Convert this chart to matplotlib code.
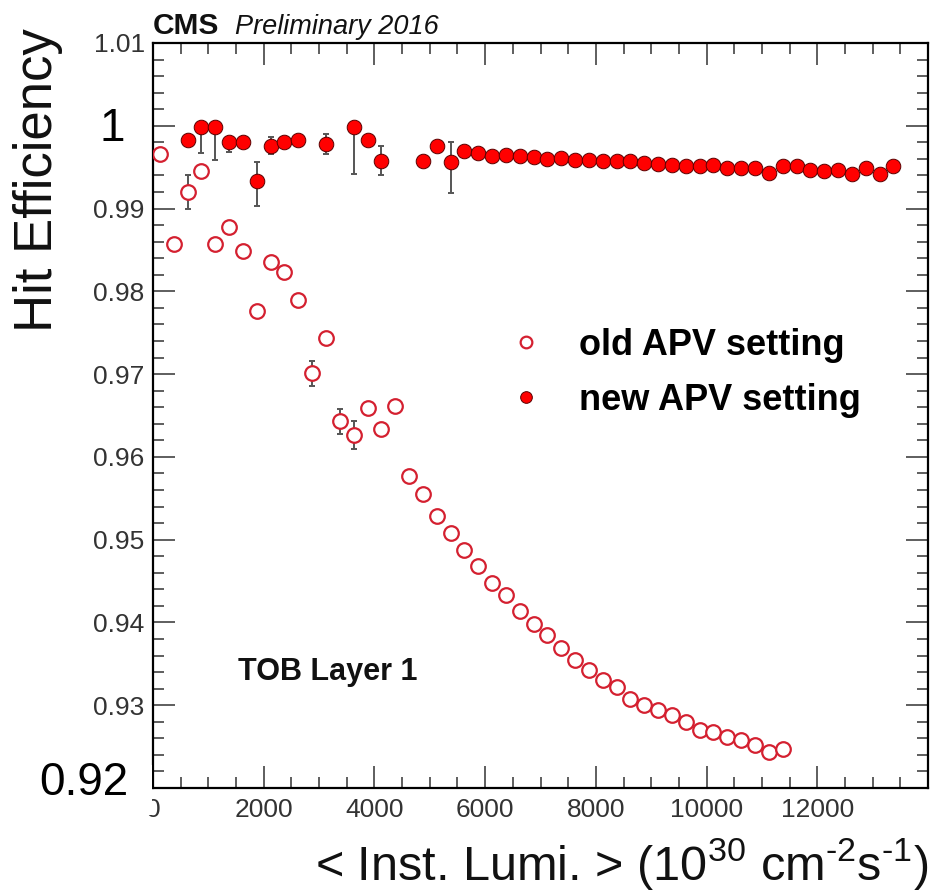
import matplotlib
matplotlib.use('Agg')
import matplotlib.pyplot as plt
from matplotlib.ticker import MultipleLocator, FixedLocator, FixedFormatter
from matplotlib.patches import Rectangle

plt.rcParams['font.family'] = ['Liberation Sans', 'DejaVu Sans']
plt.rcParams['mathtext.fontset'] = 'custom'
plt.rcParams['mathtext.rm'] = 'Liberation Sans'
plt.rcParams['mathtext.it'] = 'Liberation Sans:italic'
plt.rcParams['mathtext.bf'] = 'Liberation Sans:bold'

# old APV setting
old_lumi = [125, 375, 625, 875, 1125, 1375, 1625, 1875, 2125, 2375, 2625, 2875,
            3125, 3375, 3625, 3875, 4125, 4375, 4625, 4875, 5125, 5375, 5625, 5875,
            6125, 6375, 6625, 6875, 7125, 7375, 7625, 7875, 8125, 8375, 8625, 8875,
            9125, 9375, 9625, 9875, 10125, 10375, 10625, 10875, 11125, 11375]
old_eff = [0.9966, 0.9857, 0.9920, 0.9945, 0.9857, 0.9878, 0.9849, 0.9776, 0.9836,
           0.9823, 0.9790, 0.9701, 0.9744, 0.9643, 0.9626, 0.9659, 0.9634, 0.9661,
           0.9577, 0.9555, 0.9528, 0.9508, 0.9488, 0.9468, 0.9448, 0.9433, 0.9414,
           0.9398, 0.9385, 0.9369, 0.9355, 0.9343, 0.9331, 0.9322, 0.9308, 0.9300,
           0.9294, 0.9288, 0.9280, 0.9270, 0.9268, 0.9262, 0.9258, 0.9252, 0.9244,
           0.9247]
old_err = [0, 0, 0.0021, 0, 0, 0, 0, 0, 0, 0, 0, 0.0015, 0, 0.0015, 0.0017, 0,
           0, 0, 0, 0, 0, 0, 0, 0, 0, 0, 0, 0, 0, 0, 0, 0, 0, 0, 0, 0, 0, 0, 0, 0,
           0, 0, 0, 0, 0, 0]

# new APV setting
new_lumi = [625, 875, 1125, 1375, 1625, 1875, 2125, 2375, 2625, 3125, 3625, 3875,
            4125, 4875, 5125, 5375, 5625, 5875, 6125, 6375, 6625, 6875, 7125, 7375,
            7625, 7875, 8125, 8375, 8625, 8875, 9125, 9375, 9625, 9875, 10125, 10375,
            10625, 10875, 11125, 11375, 11625, 11875, 12125, 12375, 12625, 12875,
            13125, 13375]
new_eff = [0.9983, 0.9999, 0.9999, 0.9981, 0.9981, 0.9933, 0.9976, 0.9980, 0.9983,
           0.9978, 0.9999, 0.9983, 0.9958, 0.9958, 0.9976, 0.9956,
           0.9970, 0.9967, 0.9964, 0.9965, 0.9964, 0.9962, 0.9960, 0.9961, 0.9959,
           0.9959, 0.9958, 0.9957, 0.9957, 0.9955, 0.9954, 0.9953, 0.9952, 0.9951,
           0.9953, 0.9949, 0.9949, 0.9949, 0.9943, 0.9952, 0.9952, 0.9947, 0.9945,
           0.9947, 0.9942, 0.9949, 0.9942, 0.9951]
new_err_lo = [0, 0.0032, 0.0040, 0.0013, 0, 0.0030, 0.0010, 0.0003, 0, 0.0012,
              0.0057, 0, 0.0017, 0, 0, 0.0037] + [0] * 32
new_err_hi = [0, 0, 0, 0.0002, 0, 0.0023, 0.0010, 0.0003, 0, 0.0012,
              0, 0, 0.0017, 0, 0, 0.0025] + [0] * 32

y_ticks = [0.92, 0.93, 0.94, 0.95, 0.96, 0.97, 0.98, 0.99, 1.00, 1.01]
y_tick_labels = ['', '0.93', '0.94', '0.95', '0.96', '0.97', '0.98', '0.99', '', '1.01']
x_ticks = [0, 2000, 4000, 6000, 8000, 10000, 12000]
x_tick_labels = ['0', '2000', '4000', '6000', '8000', '10000', '12000']

W, H = 931, 892
fig = plt.figure(figsize=(W / 100, H / 100), dpi=100)
ax = fig.add_axes([153 / W, 1 - 788 / H, 775 / W, 745 / H])

ax.errorbar(old_lumi, old_eff, yerr=old_err, fmt='none', ecolor='#555555',
            elinewidth=1.4, capsize=2.5, capthick=1.4, zorder=2)
old_line, = ax.plot(old_lumi, old_eff, 'o', ms=10.5, mfc='white', mec='#d42030',
                    mew=1.6, ls='none', zorder=3, label='old APV setting')
ax.errorbar(new_lumi, new_eff, yerr=[new_err_lo, new_err_hi], fmt='none',
            ecolor='#555555', elinewidth=1.4, capsize=2.5, capthick=1.4, zorder=4)
new_line, = ax.plot(new_lumi, new_eff, 'o', ms=10.5, mfc='#ff0000', mec='#5a0000',
                    mew=0.7, ls='none', zorder=5, label='new APV setting')

ax.set_xlim(0, 14000)
ax.set_ylim(0.92, 1.01)
ax.xaxis.set_major_locator(FixedLocator(x_ticks))
ax.xaxis.set_major_formatter(FixedFormatter(x_tick_labels))
ax.xaxis.set_minor_locator(MultipleLocator(500))
ax.yaxis.set_major_locator(FixedLocator(y_ticks))
ax.yaxis.set_major_formatter(FixedFormatter(y_tick_labels))
ax.yaxis.set_minor_locator(MultipleLocator(0.002))

ax.tick_params(which='both', direction='in', top=True, right=True,
               color='#333333', width=1.1, labelsize=19, labelcolor='#333333')
ax.tick_params(which='major', length=16)
ax.tick_params(which='minor', length=8)
ax.tick_params(axis='y', pad=6)
ax.tick_params(axis='x', pad=7)
for s in ax.spines.values():
    s.set_linewidth(1.6)
    s.set_color('black')

ax.legend(handles=[old_line, new_line], loc='upper left',
          bbox_to_anchor=(492 / W, 1 - 328 / H), bbox_transform=fig.transFigure,
          frameon=False, prop={'family': 'Liberation Sans', 'weight': 'bold', 'size': 26},
          handlelength=1.9, handletextpad=0.5, labelspacing=0.55,
          borderpad=0, borderaxespad=0, markerscale=0.8, numpoints=1)

ax.text(0.1097, 0.145, 'TOB Layer 1', transform=ax.transAxes, fontsize=22,
        fontweight='bold', va='baseline', color='#111111')

fig.text(153 / W, 1 - 34 / H, 'CMS', fontsize=21.5, fontweight='bold', va='baseline', color='#111111')
fig.text(235 / W, 1 - 34 / H, 'Preliminary 2016', fontsize=19.5, style='italic',
         va='baseline', color='#111111')

fig.text(38 / W, 1 - 28 / H, 'Hit Efficiency', rotation=90, ha='center', va='top',
         fontsize=38, color='#111111')
hy = '\u2010'
fig.text(928 / W, 1 - 880 / H,
         r'< Inst. Lumi. > (10$^{30}$ cm$^{' + hy + r'2}$s$^{' + hy + r'1}$)',
         ha='right', va='baseline', fontsize=35, color='#111111')

# relabelled ticks drawn larger, covering the left part of the "0" label
fig.add_artist(Rectangle((30 / W, 1 - 815 / H), 122 / W, 50 / H, transform=fig.transFigure,
                         facecolor='white', edgecolor='none', zorder=4))
fig.text(125 / W, 1 - 129 / H, '1', ha='right', va='center', fontsize=33, color='black', zorder=5)
fig.text(128 / W, 1 - 783 / H, '0.92', ha='right', va='center', fontsize=33, color='black', zorder=5)

fig.savefig('out.png', dpi=100)
